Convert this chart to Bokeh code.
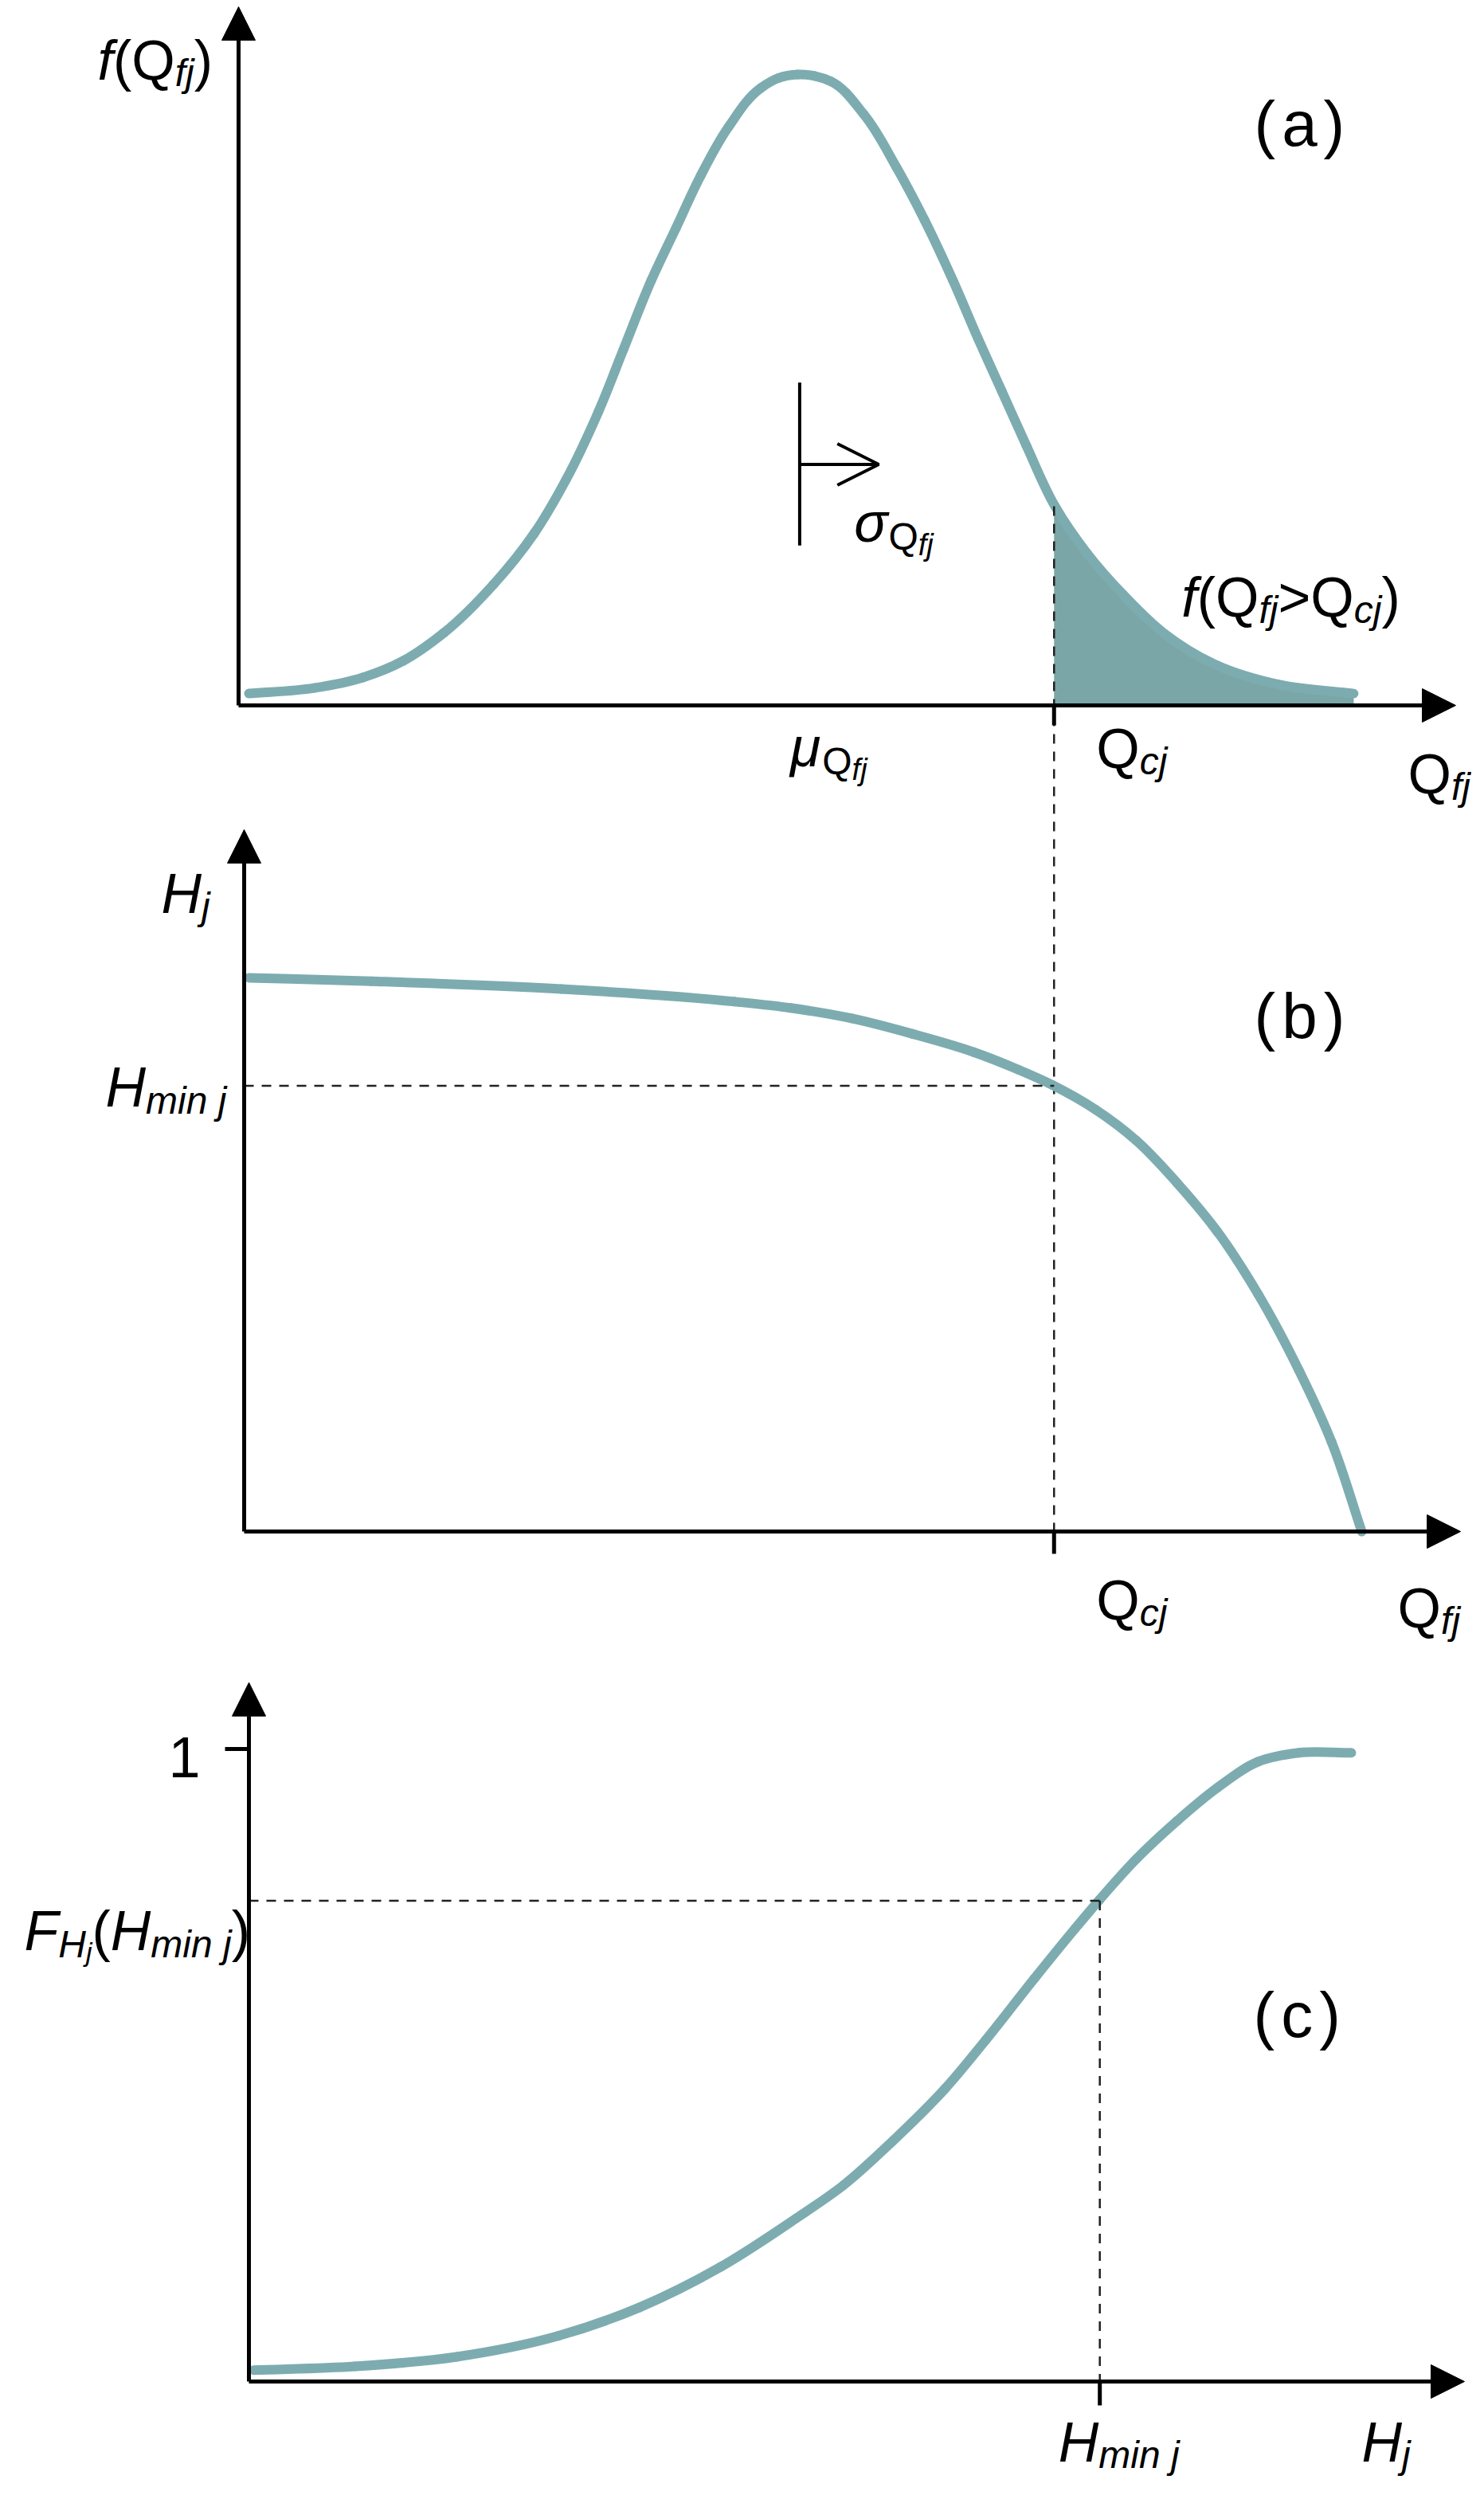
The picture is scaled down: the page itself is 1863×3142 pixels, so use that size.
import numpy as np
from bokeh.plotting import figure
from bokeh.models import Range1d, Arrow, NormalHead, OpenHead
from bokeh.core.properties import value
from bokeh.embed import file_html
from bokeh.resources import INLINE

# ---------------- data ----------------
# (a) probability density f(Q_fj) of the flow demand Q_fj
qa = [0.085, 0.622, 1.021, 1.355, 1.688, 2.094, 2.428, 2.690, 2.958, 3.161,
      3.390, 3.593, 3.796, 4.025, 4.293, 4.437, 4.594, 4.732, 4.869, 5.137,
      5.406, 5.635, 5.870, 6.073, 6.270, 6.472, 6.708, 6.970, 7.271, 7.605,
      8.043, 8.541, 9.162]
fa = [0.017, 0.025, 0.040, 0.064, 0.104, 0.173, 0.246, 0.323, 0.421, 0.509,
      0.608, 0.683, 0.758, 0.828, 0.884, 0.898, 0.903, 0.901, 0.893, 0.846,
      0.770, 0.695, 0.608, 0.526, 0.450, 0.372, 0.285, 0.218, 0.158, 0.103,
      0.057, 0.030, 0.017]
mu_q = 4.61          # mean mu_Qfj
sigma_len = 0.65     # drawn length of the sigma arrow
sigma_bar = (0.229, 0.462)
sigma_y = 0.345
q_cj = 6.70          # critical flow Q_cj
f_cj = 0.285

# (b) head H_j versus flow Q_fj
qb = [0.085, 1.093, 2.651, 4.077, 4.535, 5.039, 5.537, 6.040, 6.407, 6.688,
      7.042, 7.376, 7.709, 8.043, 8.377, 8.711, 8.979, 9.228]
hb = [0.789, 0.784, 0.773, 0.755, 0.746, 0.731, 0.709, 0.683, 0.658, 0.636,
      0.601, 0.557, 0.497, 0.427, 0.338, 0.230, 0.128, 0.0]
h_min = 0.635

# (c) cumulative distribution F_Hj of the head H_j
hc = [0.039, 0.872, 1.710, 2.543, 3.211, 3.879, 4.502, 4.889, 5.295, 5.727,
      6.062, 6.461, 6.796, 6.999, 7.300, 7.634, 7.969, 8.303, 8.637, 9.069]
Fc = [0.018, 0.024, 0.039, 0.072, 0.117, 0.181, 0.258, 0.310, 0.380, 0.463,
      0.540, 0.637, 0.716, 0.762, 0.826, 0.886, 0.939, 0.980, 0.994, 0.994]
h_min_c = 7.0
F_min = 0.760

# ---------------- layout / scales ----------------
W, HGT = 1847, 3126
PAGE0 = 8
Q_ORG, Q_UNIT = 307, 152.8
H_ORG, H_UNIT = 320, 152.6
PANEL = {"a": (893, 877), "b": (1930, 881), "c": (2997, 794)}
B_AXIS_Q = 0.046
X_TIP = {"a": 10.0, "b": 10.04, "c": 10.0}
Y_TIP = {"a": 1.0, "b": 1.0, "c": 1.105}


def yrange(base, unit):
    return Range1d(start=(base - (PAGE0 + HGT)) / unit, end=(base - PAGE0) / unit)


def xrange(org, unit):
    return Range1d(start=(PAGE0 - org) / unit, end=(PAGE0 + W - org) / unit)


def page_y(panel, v):
    base, unit = PANEL[panel]
    return base - v * unit


def val_y(panel, py):
    base, unit = PANEL[panel]
    return (base - py) / unit


CURVE = "#7DACB0"
FILL = "#7AA6A8"
FONT = value("Liberation Sans")
AXW = 5

p = figure(width=W, height=HGT, x_range=xrange(Q_ORG, Q_UNIT),
           y_range=yrange(*PANEL["a"]), x_axis_type=None, y_axis_type=None,
           toolbar_location=None, output_backend="svg", min_border=0,
           outline_line_color=None, title=None)
p.extra_x_ranges = {"H": xrange(H_ORG, H_UNIT)}
p.extra_y_ranges = {"b": yrange(*PANEL["b"]), "c": yrange(*PANEL["c"])}
p.background_fill_color = "white"
p.border_fill_color = "white"

RN = {"a": ("default", "default"), "b": ("default", "b"), "c": ("H", "c")}
XU = {"a": Q_UNIT, "b": Q_UNIT, "c": H_UNIT}


def smooth_curve(xs, ys, panel):
    """Draw a smooth (Hermite / Bezier) curve through the read points."""
    xu, yu = XU[panel], PANEL[panel][1]
    P = np.column_stack([np.asarray(xs) * xu, np.asarray(ys) * yu])
    h = np.hypot(*np.diff(P, axis=0).T)
    d = np.diff(P, axis=0) / h[:, None]
    m = np.zeros_like(P)
    m[0], m[-1] = d[0], d[-1]
    for i in range(1, len(P) - 1):
        m[i] = (d[i - 1] * h[i] + d[i] * h[i - 1]) / (h[i - 1] + h[i])
    c0 = P[:-1] + m[:-1] * h[:, None] / 3
    c1 = P[1:] - m[1:] * h[:, None] / 3
    xr, yr = RN[panel]
    p.bezier(x0=P[:-1, 0] / xu, y0=P[:-1, 1] / yu, x1=P[1:, 0] / xu, y1=P[1:, 1] / yu,
             cx0=c0[:, 0] / xu, cy0=c0[:, 1] / yu, cx1=c1[:, 0] / xu, cy1=c1[:, 1] / yu,
             line_color=CURVE, line_width=12, line_cap="round",
             x_range_name=xr, y_range_name=yr)


def axis_arrows(panel, x0):
    xr, yr = RN[panel]
    for (xs, ys, xe, ye) in [(x0, 0, X_TIP[panel], 0), (x0, 0, x0, Y_TIP[panel])]:
        p.add_layout(Arrow(end=NormalHead(size=42, fill_color="black", line_color="black", line_width=1),
                           x_start=xs, y_start=ys, x_end=xe, y_end=ye,
                           line_width=AXW, line_color="black",
                           x_range_name=xr, y_range_name=yr))


DASH = dict(line_color="#222222", line_width=2.5, line_dash="12 10")

# ---- panel (a)
tail_q = [q_cj] + [q for q in qa if q > q_cj + 0.02]
tail_f = [f_cj] + [f for q, f in zip(qa, fa) if q > q_cj + 0.02]
p.varea(x=tail_q, y1=[0] * len(tail_q), y2=tail_f, fill_color=FILL)
smooth_curve(qa, fa, "a")
p.segment(x0=[q_cj], y0=[f_cj], x1=[q_cj], y1=[val_y("a", page_y("b", 0))], **DASH)
axis_arrows("a", 0)
p.segment(x0=[q_cj], y0=[0], x1=[q_cj], y1=[-25 / PANEL["a"][1]], line_color="black", line_width=AXW)
p.segment(x0=[mu_q], y0=[sigma_bar[0]], x1=[mu_q], y1=[sigma_bar[1]], line_color="black", line_width=4)
p.add_layout(Arrow(end=OpenHead(size=52, line_width=4, line_color="black"),
                   x_start=mu_q, y_start=sigma_y, x_end=mu_q + sigma_len, y_end=sigma_y,
                   line_width=4, line_color="black"))

# ---- panel (b)
smooth_curve(qb, hb, "b")
p.segment(x0=[B_AXIS_Q], y0=[h_min], x1=[q_cj], y1=[h_min], y_range_name="b", **DASH)
axis_arrows("b", B_AXIS_Q)
p.segment(x0=[q_cj], y0=[0], x1=[q_cj], y1=[-28 / PANEL["b"][1]], line_color="black",
          line_width=AXW, y_range_name="b")

# ---- panel (c)
smooth_curve(hc, Fc, "c")
p.segment(x0=[0, h_min_c], y0=[F_min, F_min], x1=[h_min_c, h_min_c], y1=[F_min, 0],
          x_range_name="H", y_range_name="c", **DASH)
axis_arrows("c", 0)
p.segment(x0=[h_min_c, -30 / H_UNIT], y0=[0, 1], x1=[h_min_c, 0], y1=[-30 / PANEL["c"][1], 1],
          line_color="black", line_width=AXW, x_range_name="H", y_range_name="c")

# ---------------- labels ----------------
WID = {"f": 278, "(": 333, ")": 333, "Q": 778, "j": 222, "c": 500, ">": 584,
       "H": 722, "F": 611, "m": 833, "i": 222, "n": 556, " ": 278, "a": 556,
       "b": 556, "1": 556, "σ": 617, "μ": 576}


def tw(s, size):
    return sum(WID.get(ch, 556) for ch in s) * size / 1000.0


def add_label(runs, x, y, dx, dy, panel="a", align="left"):
    xr, yr = RN[panel]
    runs = [r if len(r) == 5 else tuple(r) + (0,) for r in runs]
    total = sum(tw(t, s) + g for t, s, st, sh, g in runs)
    cx = dx - (total if align == "right" else 0)
    xs, ys, txt, xo, yo, fs, fst = [], [], [], [], [], [], []
    for t, s, st, sh, g in runs:
        xs.append(x); ys.append(y); txt.append(t)
        xo.append(cx); yo.append(dy + sh)
        fs.append("%dpx" % s); fst.append(st)
        cx += tw(t, s) + g
    p.text(x=xs, y=ys, text=txt, x_offset=xo, y_offset=yo, text_font_size=fs,
           text_font_style=fst, text_font=FONT, text_baseline="alphabetic",
           text_align="left", text_color="black", x_range_name=xr, y_range_name=yr)


M, S, SS = 70, 48, 38
I, N = "italic", "normal"
sub_Qfj = [("Q", S, N, 18), ("fj", SS, I, 28)]


def tag(letter):
    return [("(", 80, N, 0, 8), (letter, 80, N, 0, 8), (")", 80, N, 0)]


add_label([("f", M, I, 0), ("(", M, N, 0), ("Q", M, N, 0), ("fj", S, I, 16), (")", M, N, 0)],
          0, Y_TIP["a"], -177, 67, "a")
add_label(tag("a"), X_TIP["a"], Y_TIP["a"], -253, 147, "a")
add_label([("σ", M, I, 0)] + sub_Qfj, mu_q + sigma_len, sigma_y, -31, 73, "a")
add_label([("μ", M, I, 0)] + sub_Qfj, mu_q, 0, -12, 52, "a")
add_label([("Q", M, N, 0), ("cj", S, I, 16)], q_cj, 0, 53, 54, "a")
add_label([("Q", M, N, 0), ("fj", S, I, 16)], X_TIP["a"], 0, -60, 86, "a")
add_label([("f", M, I, 0), ("(", M, N, 0), ("Q", M, N, 0), ("fj", S, I, 16), (">", M, N, 0),
           ("Q", M, N, 0), ("cj", S, I, 16), (")", M, N, 0)], q_cj, f_cj, 160, 114, "a")

add_label([("H", M, I, 0), ("j", S, I, 16)], B_AXIS_Q, Y_TIP["b"], -104, 80, "b")
add_label([("H", M, I, 0), ("min j", S, I, 16)], B_AXIS_Q, h_min, -174, 2, "b")
add_label(tag("b"), X_TIP["b"], Y_TIP["b"], -259, 234, "b")
add_label([("Q", M, N, 0), ("cj", S, I, 16)], q_cj, 0, 53, 86, "b")
add_label([("Q", M, N, 0), ("fj", S, I, 16)], X_TIP["b"], 0, -79, 96, "b")

add_label([("1", 72, N, 0)], 0, 1, -61, 10, "c", align="right")
add_label([("F", M, I, 0), ("H", S, I, 16), ("j", 34, I, 26), ("(", M, N, 0), ("H", M, I, 0),
           ("min j", S, I, 16), (")", M, N, 0)], 0, F_min, -282, 38, "c")
add_label(tag("c"), X_TIP["c"], 1, -265, 334, "c")
add_label([("H", M, I, 0), ("min j", S, I, 16)], h_min_c, 0, -52, 76, "c")
add_label([("H", M, I, 0), ("j", S, I, 16)], X_TIP["c"], 0, -129, 76, "c")

open("out.html", "w").write(file_html(p, INLINE))
